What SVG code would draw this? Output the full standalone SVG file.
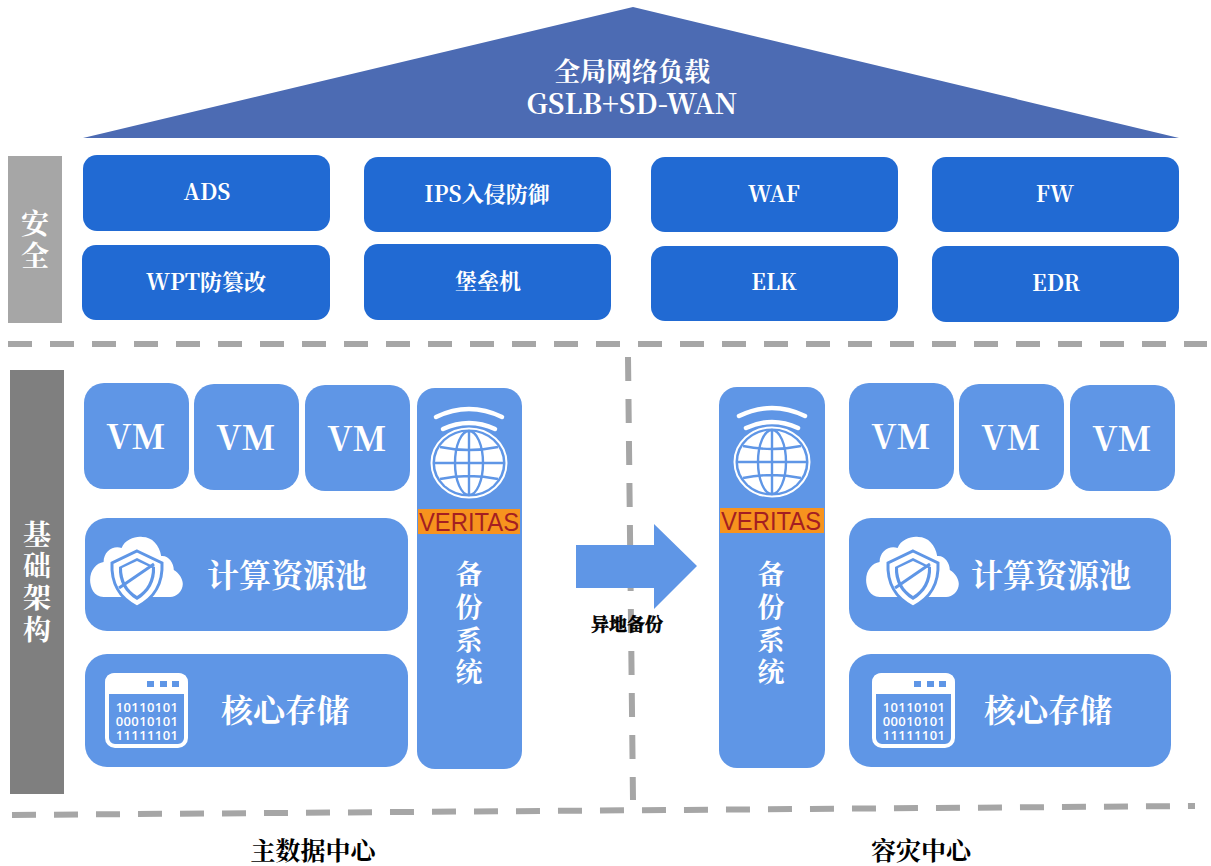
<svg xmlns="http://www.w3.org/2000/svg" xmlns:xlink="http://www.w3.org/1999/xlink" width="1211" height="866" viewBox="0 0 1211 866">
<style>
text{font-family:"Noto Serif CJK SC","Liberation Serif","Noto Sans CJK SC",serif;font-weight:700;text-anchor:middle}
.w{fill:#fff}
.sec{fill:#216AD3}
.lb{fill:#5F96E6}
.t22{font-size:22px}
.vm{font-size:34px}
.big{font-size:32px}
.bk{font-size:27px}
.side{font-size:28px}
.cap{font-size:25px;fill:#000}
.dash{fill:none;stroke:#A6A6A6;stroke-width:6;stroke-dasharray:24 18}
.bits{font-family:"Open Sans","Liberation Sans",sans-serif;font-size:13px;font-weight:600;fill:#fff;letter-spacing:.4px}
.ver{font-family:"Liberation Sans",sans-serif;font-size:25px;font-weight:400;fill:#A41E22}
</style>
<defs>
<g id="globe">
<path d="M-33-46Q0-62 33-46M-26-34Q0-46 26-34" fill="none" stroke="#fff" stroke-width="4.5" stroke-linecap="round"/>
<ellipse rx="37.5" ry="34.5" fill="none" stroke="#fff" stroke-width="2"/>
<ellipse rx="34" ry="31.5" fill="#fff"/>
<g fill="none" stroke="#5F96E6" stroke-width="2.4">
<ellipse rx="14" ry="32"/>
<path d="M0-32V32M-34 0H34M-29-16Q0-10 29-16M-29 16Q0 10 29 16"/>
</g>
</g>
<g id="cloud">
<path d="M14 60C3 60-1 50-1 43C-1 33 6 26 14 25C14 14 25 8 34 11C38 2 50-1 57 0C68 0 76 8 78 19C86 18 92 26 92 33C98 36 102 42 102 47C102 54 95 60 88 60Z" transform="scale(.9 1)" fill="#fff"/>
<path d="M46 15L71 27C72 46 64 62 46 71C28 62 20 46 21 27Z" transform="translate(0 -1)" fill="#fff" stroke="#5F96E6" stroke-width="3"/>
<path d="M46 22L64 31C65 45 58 57 46 64C34 57 27 45 28 31Z" transform="translate(0 -1)" fill="#5F96E6"/>
<path d="M46 25L61 32C61 44 56 54 46 60C36 54 31 44 31 32Z" transform="translate(0 -1)" fill="#fff"/>
<path d="M28 52L63 28" transform="translate(0 -1)" stroke="#5F96E6" stroke-width="3"/>
</g>
<g id="win">
<rect x="2" y="2" width="79" height="71" rx="8" fill="#5F96E6" stroke="#fff" stroke-width="4"/>
<path d="M0 21V10Q0 0 10 0H73Q83 0 83 10V21Z" fill="#fff"/>
<rect x="42" y="8" width="7" height="6" fill="#5F96E6"/><rect x="55" y="8" width="7" height="6" fill="#5F96E6"/><rect x="67" y="8" width="7" height="6" fill="#5F96E6"/>
<text class="bits" x="42" y="39">10110101</text>
<text class="bits" x="42" y="53">00010101</text>
<text class="bits" x="42" y="67">11111101</text>
</g>
</defs>
<rect width="1211" height="866" fill="#fff"/>
<g id="connectors">
<path class="dash" d="M8 344H1207"/>
<path class="dash" d="M12 815L1195 806"/>
<path class="dash" d="M628 357L633 800"/>
</g>
<g id="roof"><polygon points="83,138 633,7 1179,138" fill="#4C6BB3"/>
<text class="w" x="632" y="81" font-size="26">全局网络负载</text><text class="w" x="632" y="114" font-size="28">GSLB+SD-WAN</text></g>
<g id="label-security"><rect x="8" y="156" width="54" height="167" fill="#A6A6A6"/><text class="w side" x="35" y="234">安</text><text class="w side" x="35" y="266">全</text></g>
<g id="label-infra"><rect x="10" y="370" width="54" height="424" fill="#7F7F7F"/>
<text class="w side" x="37" y="545">基</text><text class="w side" x="37" y="576">础</text><text class="w side" x="37" y="608">架</text><text class="w side" x="37" y="640">构</text></g>
<g id="ads"><rect class="sec" x="83" y="155" width="247" height="76" rx="14"/><text class="w t22" x="207" y="200">ADS</text></g>
<g id="wpt"><rect class="sec" x="82" y="245" width="248" height="75" rx="14"/><text class="w t22" x="206" y="290">WPT防篡改</text></g>
<g id="ips"><rect class="sec" x="364" y="157" width="247" height="75" rx="14"/><text class="w t22" x="487" y="202">IPS入侵防御</text></g>
<g id="bastion"><rect class="sec" x="364" y="244" width="247" height="76" rx="14"/><text class="w t22" x="488" y="289">堡垒机</text></g>
<g id="waf"><rect class="sec" x="651" y="157" width="247" height="75" rx="14"/><text class="w t22" x="774" y="202">WAF</text></g>
<g id="elk"><rect class="sec" x="651" y="246" width="247" height="75" rx="14"/><text class="w t22" x="774" y="290">ELK</text></g>
<g id="fw"><rect class="sec" x="932" y="157" width="247" height="75" rx="14"/><text class="w t22" x="1055" y="202">FW</text></g>
<g id="edr"><rect class="sec" x="932" y="246" width="247" height="76" rx="14"/><text class="w t22" x="1056" y="291">EDR</text></g>
<g id="vm-l1"><rect class="lb" x="84" y="383" width="105" height="106" rx="20"/><text class="w vm" x="136" y="449">VM</text></g>
<g id="vm-l2"><rect class="lb" x="194" y="384" width="105" height="106" rx="20"/><text class="w vm" x="246" y="450">VM</text></g>
<g id="vm-l3"><rect class="lb" x="305" y="385" width="105" height="106" rx="20"/><text class="w vm" x="357" y="451">VM</text></g>
<g id="compute-l"><rect class="lb" x="85" y="518" width="323" height="113" rx="22"/><use href="#cloud" xlink:href="#cloud" x="91" y="537"/><text class="w big" x="287" y="587">计算资源池</text></g>
<g id="storage-l"><rect class="lb" x="85" y="654" width="323" height="113" rx="22"/><use href="#win" xlink:href="#win" x="105" y="673"/><text class="w big" x="285" y="722">核心存储</text></g>
<g id="backup-l"><rect class="lb" x="417" y="388" width="105" height="381" rx="18"/><use href="#globe" xlink:href="#globe" x="469" y="463"/>
<rect x="418" y="509" width="102" height="25" fill="#F7931E"/><text class="ver" x="469" y="531" textLength="100" lengthAdjust="spacingAndGlyphs">VERITAS</text>
<text class="w bk" x="469" y="584">备</text><text class="w bk" x="469" y="617">份</text><text class="w bk" x="469" y="650">系</text><text class="w bk" x="469" y="682">统</text></g>
<g id="vm-r1"><rect class="lb" x="849" y="383" width="105" height="106" rx="20"/><text class="w vm" x="901" y="449">VM</text></g>
<g id="vm-r2"><rect class="lb" x="959" y="384" width="105" height="106" rx="20"/><text class="w vm" x="1011" y="450">VM</text></g>
<g id="vm-r3"><rect class="lb" x="1070" y="385" width="105" height="106" rx="20"/><text class="w vm" x="1122" y="451">VM</text></g>
<g id="compute-r"><rect class="lb" x="849" y="518" width="322" height="113" rx="22"/><use href="#cloud" xlink:href="#cloud" x="867" y="537"/><text class="w big" x="1051" y="587">计算资源池</text></g>
<g id="storage-r"><rect class="lb" x="849" y="654" width="322" height="113" rx="22"/><use href="#win" xlink:href="#win" x="872" y="673"/><text class="w big" x="1048" y="722">核心存储</text></g>
<g id="backup-r"><rect class="lb" x="719" y="387" width="106" height="381" rx="18"/><use href="#globe" xlink:href="#globe" x="772" y="462"/>
<rect x="720" y="508" width="104" height="25" fill="#F7931E"/><text class="ver" x="771" y="530" textLength="100" lengthAdjust="spacingAndGlyphs">VERITAS</text>
<text class="w bk" x="771" y="584">备</text><text class="w bk" x="771" y="617">份</text><text class="w bk" x="771" y="650">系</text><text class="w bk" x="771" y="682">统</text></g>
<g id="arrow"><polygon class="lb" points="576,545 654,545 654,524 697,566 654,609 654,588 576,588"/><text x="627" y="631" font-size="18" fill="#000" stroke="#000" stroke-width=".6">异地备份</text></g>
<text class="cap" x="313" y="860">主数据中心</text>
<text class="cap" x="921" y="860">容灾中心</text>
</svg>
